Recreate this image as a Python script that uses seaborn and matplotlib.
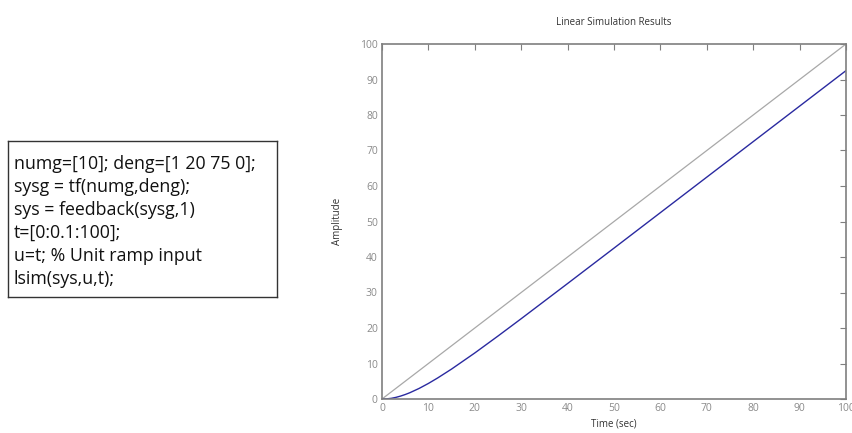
import matplotlib
matplotlib.use("Agg")
import matplotlib.pyplot as plt
import seaborn as sns
import pandas as pd

# Data
t_input = [0, 100]
u_input = [0, 100]
t_resp = [0, 1, 2, 3, 4, 5, 6, 8, 10, 12, 15, 20, 25, 30, 40, 50, 60, 70, 80, 90, 100]
y_resp = [0, 0.04, 0.19, 0.46, 0.82, 1.26, 1.77, 2.98, 4.38, 5.93, 8.44, 12.97,
          17.74, 22.62, 32.53, 42.5, 52.5, 62.5, 72.5, 82.5, 92.5]
x_ticks = [0, 10, 20, 30, 40, 50, 60, 70, 80, 90, 100]
y_ticks = [0, 10, 20, 30, 40, 50, 60, 70, 80, 90, 100]
code_lines = ["numg=[10]; deng=[1 20 75 0];",
              "sysg = tf(numg,deng);",
              "sys = feedback(sysg,1)",
              "t=[0:0.1:100];",
              "u=t; % Unit ramp input",
              "lsim(sys,u,t);"]

sns.set_style("white")
plt.rcParams['font.family'] = ['Open Sans', 'DejaVu Sans']

W, H = 853, 433
fig = plt.figure(figsize=(W / 100, H / 100), dpi=100)
ax = fig.add_axes([382 / W, 1 - 399 / H, (846 - 382) / W, (399 - 44) / H])

df_in = pd.DataFrame({"t": t_input, "u": u_input})
df_out = pd.DataFrame({"t": t_resp, "y": y_resp})
sns.lineplot(data=df_in, x="t", y="u", ax=ax, color="#a8a8a8", linewidth=0.9)
sns.lineplot(data=df_out, x="t", y="y", ax=ax, color="#2a2aa0", linewidth=1.0)

ax.set_xlim(0, 100)
ax.set_ylim(0, 100)
ax.set_xticks(x_ticks)
ax.set_yticks(y_ticks)
grey = "#7f7f7f"
for s in ax.spines.values():
    s.set_color(grey)
    s.set_linewidth(1.2)
ax.tick_params(direction="in", length=4, width=0.8, colors=grey, labelsize=7.5,
               top=True, right=True, labelcolor="#8a8a8a", pad=3)
ax.set_xlabel("Time (sec)", fontsize=7, color="#333333", labelpad=3)
ax.set_ylabel("Amplitude", fontsize=7, color="#333333", labelpad=12)
ax.set_title("Linear Simulation Results", fontsize=7, color="#333333", pad=14)

# Code text box
box_ax = fig.add_axes([8 / W, 1 - 297 / H, (277 - 8) / W, (297 - 141) / H])
box_ax.set_xlim(0, 1)
box_ax.set_ylim(0, 1)
box_ax.set_xticks([])
box_ax.set_yticks([])
for s in box_ax.spines.values():
    s.set_color("#333333")
    s.set_linewidth(1.0)
box_h = 297 - 141
for i, line in enumerate(code_lines):
    ypix = 164 + i * 23 - 141
    box_ax.text(6 / 269, 1 - ypix / box_h, line, fontsize=12.8, color="#111111",
                va="center", ha="left", transform=box_ax.transAxes)

fig.savefig("out.png", dpi=100)
